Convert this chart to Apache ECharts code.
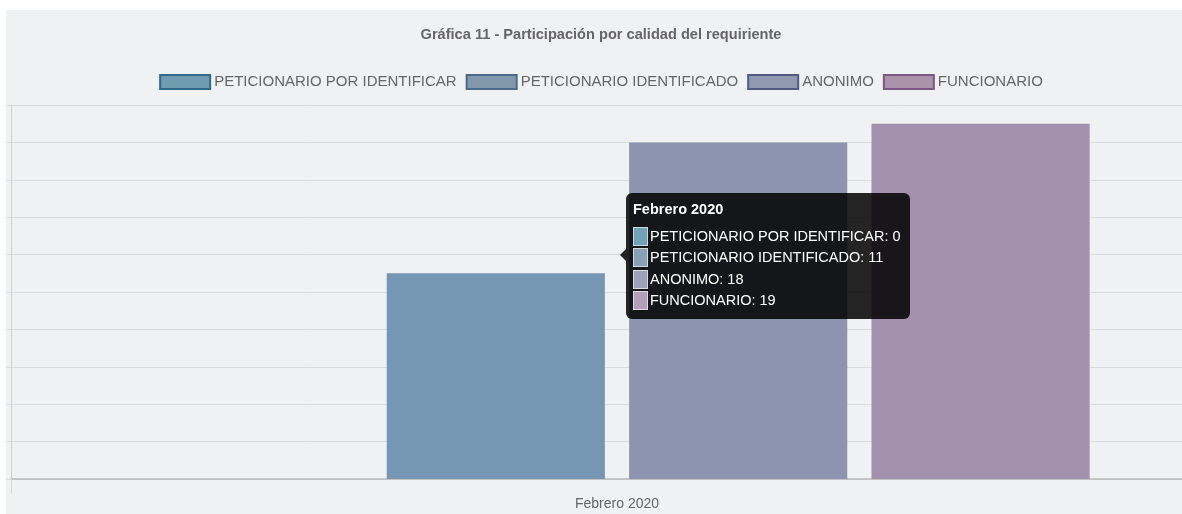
<!DOCTYPE html>
<html>
<head>
<meta charset="utf-8">
<script src="https://cdn.jsdelivr.net/npm/echarts@6/dist/echarts.min.js"></script>
<style>
    html, body { margin: 0; padding: 0; background: #fff; overflow: hidden; width: 1182px; height: 514px; }
    #grafica11 { position: absolute; left: 6px; top: 10px; width: 1190px; height: 504px; }
</style>
</head>
<body>
<div id="grafica11"></div>
<script>
'use strict';

/** Gráfica 11 - calidad del requiriente */
var meses = ['Febrero 2020'];
var series_nombres = ['PETICIONARIO POR IDENTIFICAR', 'PETICIONARIO IDENTIFICADO', 'ANONIMO', 'FUNCIONARIO'];
var valores = [[0], [11], [18], [19]];
var colores_barra = ['#6f9cb0', '#7597b4', '#8c94b0', '#a292ad'];
var colores_leyenda = ['#6f9cb0', '#8299ac', '#9199b1', '#a994aa'];
var bordes_leyenda = ['#2e6b88', '#4a6a8c', '#505a85', '#7a5985'];
var colores_tip = ['#72a2b6', '#8aa0b6', '#9fa1b9', '#b39fb9'];

var fuente = '"Liberation Sans", Arial, sans-serif';
var grafica11 = echarts.init(document.getElementById('grafica11'));

var option = {
    backgroundColor: '#f0f1f3',
    animation: false,
    title: {
        text: 'Gráfica 11 - Participación por calidad del requiriente',
        left: 'center',
        top: 12,
        textStyle: {
            fontFamily: fuente,
            fontWeight: 'bold',
            fontSize: 14.6,
            color: '#666'
        }
    },
    legend: {
        left: 'center',
        top: 59,
        icon: 'rect',
        itemWidth: 50,
        itemHeight: 14,
        itemGap: 9,
        data: series_nombres.map(function (n, i) {
            return {
                name: n,
                itemStyle: { color: colores_leyenda[i], borderColor: bordes_leyenda[i], borderWidth: 2 }
            };
        }),
        textStyle: {
            fontFamily: fuente,
            fontSize: 15,
            color: '#666',
            padding: [0, 0, 0, -1]
        }
    },
    tooltip: {
        trigger: 'axis',
        alwaysShowContent: true,
        axisPointer: { type: 'none' },
        backgroundColor: 'rgba(0,0,0,0.85)',
        borderWidth: 0,
        borderRadius: 6,
        padding: [6, 9, 8, 7],
        extraCssText: 'box-shadow:none;',
        position: function () {
            return [620, 183];
        },
        formatter: function (params) {
            var f = fuente.replace(/"/g, "'");
            var html = '<div style="position:absolute;left:-6px;top:56px;width:0;height:0;' +
                'border-top:6px solid transparent;border-bottom:6px solid transparent;' +
                'border-right:6px solid rgba(0,0,0,0.85);"></div>';
            html += '<div style="font:bold 14.5px ' + f + ';color:#fff;line-height:20px;margin-bottom:6px;">' +
                params[0].axisValue + '</div>';
            params.forEach(function (p) {
                html += '<div style="font:14.5px ' + f + ';color:#fff;line-height:20.5px;white-space:nowrap;">' +
                    '<span style="display:inline-block;vertical-align:middle;width:13px;height:17px;margin-right:2px;' +
                    'border:1px solid rgba(255,255,255,0.6);background:' + colores_tip[p.seriesIndex] + ';"></span>' +
                    '<span style="vertical-align:middle;">' + p.seriesName + ': ' + p.value + '</span></div>';
            });
            return html;
        }
    },
    grid: {
        left: 5,
        top: 95,
        width: 1212,
        height: 374,
        outerBoundsMode: 'none',
        containLabel: false
    },
    xAxis: {
        type: 'category',
        data: meses,
        axisLine: { lineStyle: { color: '#b9b9b9', width: 1.5 } },
        axisTick: { show: true, length: 15, lineStyle: { color: '#d8d8d8' } },
        axisLabel: {
            margin: 18,
            fontFamily: fuente,
            fontSize: 14,
            color: '#666'
        },
        splitLine: { show: false }
    },
    yAxis: {
        type: 'value',
        min: 0,
        max: 20,
        interval: 2,
        axisLine: { show: true, lineStyle: { color: '#d0d0d0' } },
        axisTick: { show: true, length: 5, lineStyle: { color: '#dcdcdc' } },
        axisLabel: { show: false },
        splitLine: { lineStyle: { color: '#dcdcdc' } }
    },
    series: series_nombres.map(function (n, i) {
        return {
            name: n,
            type: 'bar',
            barWidth: '18%',
            barGap: '11.1%',
            data: valores[i],
            itemStyle: { color: colores_barra[i] },
            emphasis: { disabled: true }
        };
    })
};
grafica11.setOption(option);
grafica11.dispatchAction({ type: 'showTip', seriesIndex: 0, dataIndex: 0 });
</script>
</body>
</html>
